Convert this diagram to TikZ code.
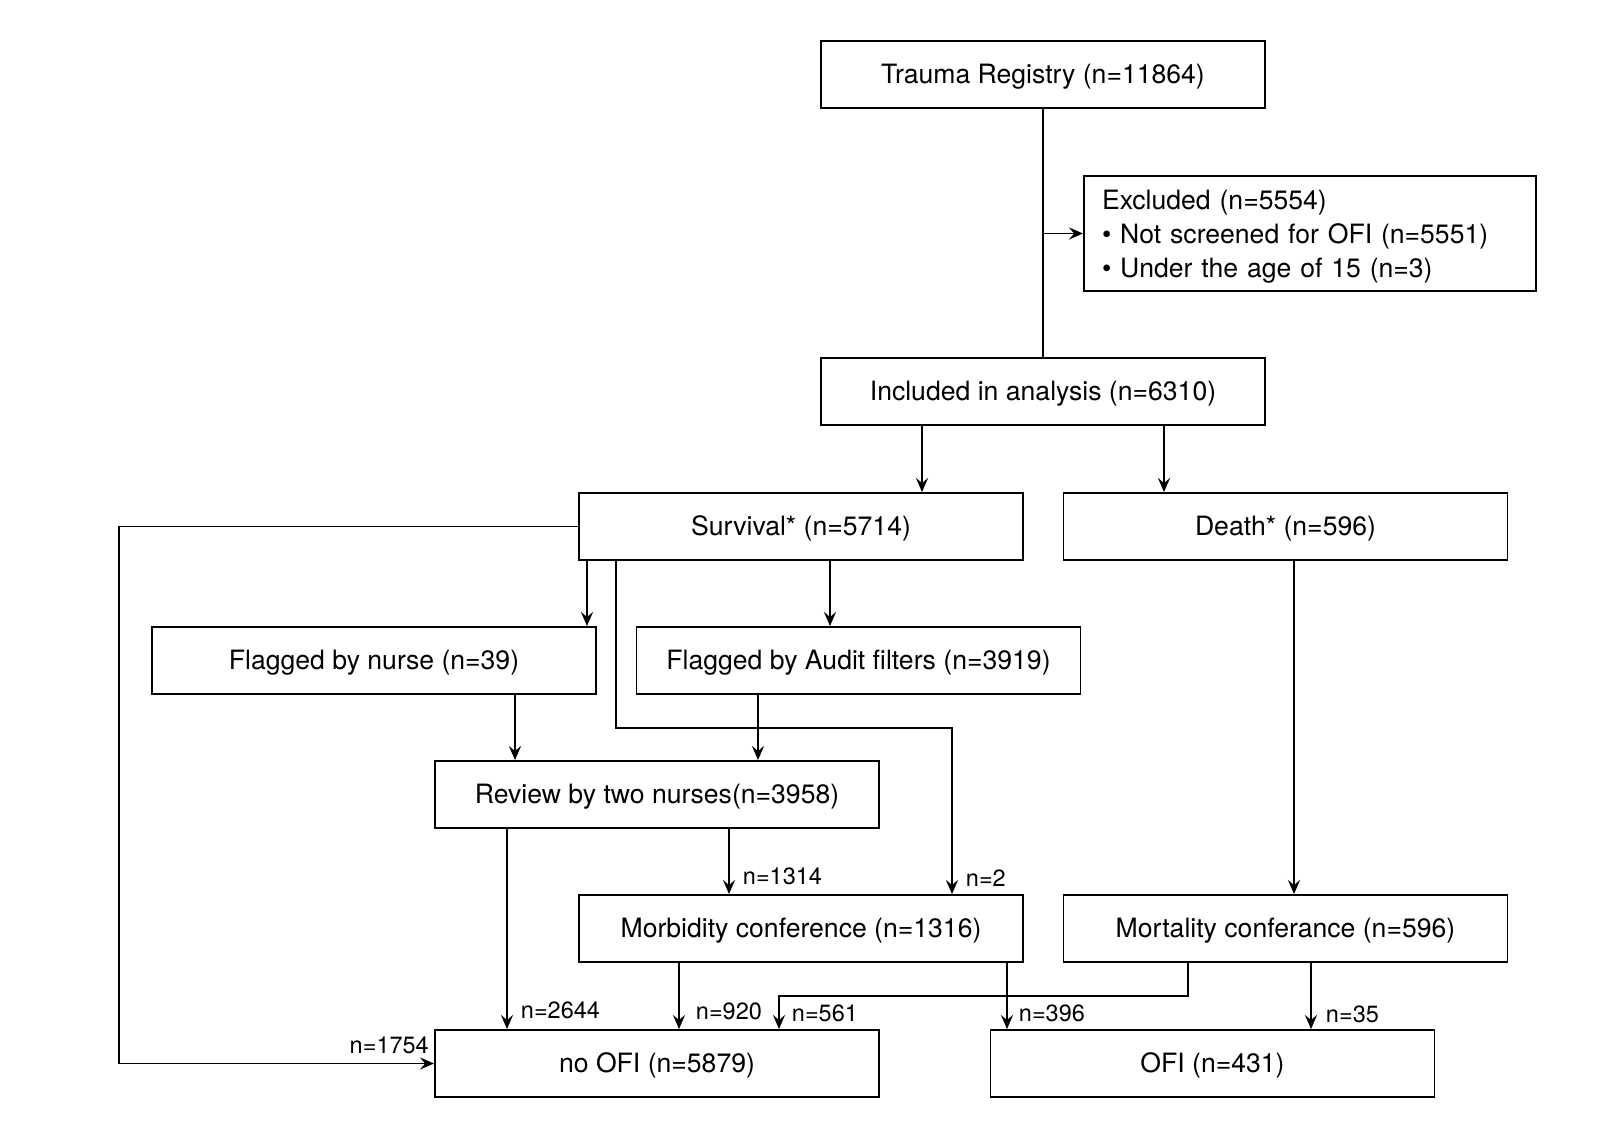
\documentclass[tikz,border=0pt]{standalone}
\usepackage{fontspec}
\setmainfont{TeX Gyre Heros}
\usetikzlibrary{arrows.meta,calc}
\begin{document}
\begin{tikzpicture}[x=1pt,y=-1pt,
  box/.style={draw, line width=1.9pt, minimum width=444pt, minimum height=67pt, inner sep=0pt, text depth=2pt, font=\fontsize{26.6}{32}\selectfont},
  conn/.style={line width=1.9pt},
  arr/.style={conn,-{Stealth[length=14pt,width=12pt,inset=5pt]}},
  lbl/.style={font=\fontsize{23.5}{28}\selectfont, inner sep=0pt}]
\useasboundingbox (0,0) rectangle (1610,1126);
\fill[white] (0,0) rectangle (1610,1126);
% boxes
\node[box] (trauma) at (1043,74.5) {Trauma Registry (n=11864)};
\node[draw, line width=1.9pt, minimum width=452pt, minimum height=115pt, inner sep=0pt] (excl) at (1310,233.5) {};
\node[inner sep=0pt, text width=416pt, align=left, font=\fontsize{26.6}{34}\selectfont] (excltxt) at ([yshift=-3pt]excl.center)
  {Excluded (n=5554)\\ • Not screened for OFI (n=5551)\\ • Under the age of 15 (n=3)};
\node[box] (incl) at (1043,391.5) {Included in analysis (n=6310)};
\node[box] (surv) at (801,526.5) {Survival* (n=5714)};
\node[box] (death) at (1285.5,526.5) {Death* (n=596)};
\node[box] (nurse) at (374,660.5) {Flagged by nurse (n=39)};
\node[box] (audit) at (858.5,660.5) {Flagged by Audit filters (n=3919)};
\node[box] (review) at (657,794.5) {Review by two nurses(n=3958)};
\node[box] (morb) at (801,928.5) {Morbidity conference (n=1316)};
\node[box] (mort) at (1285.5,928.5) {Mortality conferance (n=596)};
\node[box] (noofi) at (657,1063.5) {no OFI (n=5879)};
\node[box] (ofi) at (1212.5,1063.5) {OFI (n=431)};
% x positions
\coordinate (xIS) at (922,0);
\coordinate (xID) at (1164,0);
\coordinate (xL) at (119,0);
\coordinate (xSN) at (587,0);
\coordinate (xSA) at (830,0);
\coordinate (b1) at (616,728);
\coordinate (xSM2) at (952,0);
\coordinate (xNR) at (515,0);
\coordinate (xAR) at (758,0);
\coordinate (xRN) at (507,0);
\coordinate (xRM) at (729,0);
\coordinate (xMN) at (679,0);
\coordinate (xMO) at (1007,0);
\coordinate (b2) at (1188,996);
\coordinate (xMt2) at (779,0);
\coordinate (xMtO) at (1311,0);
\coordinate (xDM) at (1294,0);
% connectors
\draw[conn] (trauma.south) -- (incl.north);
\draw[arr] (trauma.south |- excl.west) -- (excl.west);
\draw[arr] (xIS |- incl.south) -- (xIS |- surv.north);
\draw[arr] (xID |- incl.south) -- (xID |- death.north);
\draw[arr] (surv.west) -| (xL |- noofi.west) -- (noofi.west);
\node[lbl, anchor=base east] (l1754) at (429,1053) {n=1754};
\draw[arr] (xSN |- surv.south) -- (xSN |- nurse.north);
\draw[arr] (xSA |- surv.south) -- (xSA |- audit.north);
\draw[arr] (b1 |- surv.south) -- (b1) -| (xSM2 |- morb.north)
  node[lbl, anchor=base west, xshift=13pt, yshift=8pt] {n=2};
\draw[arr] (xNR |- nurse.south) -- (xNR |- review.north);
\draw[arr] (xAR |- audit.south) -- (xAR |- review.north);
\draw[arr] (xRN |- review.south) -- (xRN |- noofi.north)
  node[lbl, anchor=base west, xshift=13pt, yshift=11pt] {n=2644};
\draw[arr] (xRM |- review.south) -- (xRM |- morb.north)
  node[lbl, anchor=base west, xshift=13pt, yshift=10pt] {n=1314};
\draw[arr] (xMN |- morb.south) -- (xMN |- noofi.north)
  node[lbl, anchor=base west, xshift=16pt, yshift=10pt] {n=920};
\draw[arr] (xMO |- morb.south) -- (xMO |- ofi.north)
  node[lbl, anchor=base west, xshift=11pt, yshift=8pt] {n=396};
\draw[arr] (b2 |- mort.south) -- (b2) -| (xMt2 |- noofi.north)
  node[lbl, anchor=base west, xshift=12pt, yshift=8pt] {n=561};
\draw[arr] (xMtO |- mort.south) -- (xMtO |- ofi.north)
  node[lbl, anchor=base west, xshift=14pt, yshift=7pt] {n=35};
\draw[arr] (xDM |- death.south) -- (xDM |- mort.north);
\end{tikzpicture}
\end{document}
